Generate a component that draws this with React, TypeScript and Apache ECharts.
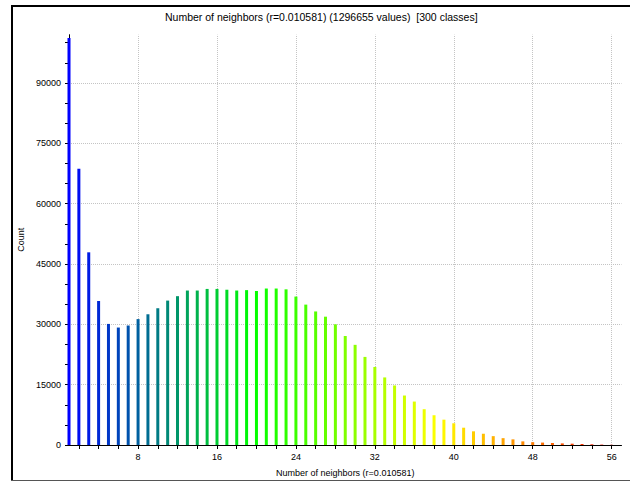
import React, { useEffect, useRef } from "react";
import * as echarts from "echarts";

const titleText = "Number of neighbors (r=0.010581) (1296655 values)  [300 classes]";
const xAxisName = "Number of neighbors (r=0.010581)";
const yAxisName = "Count";

const neighbors = [
  1, 2, 3, 4, 5, 6, 7, 8, 9, 10, 11, 12, 13, 14, 15, 16, 17, 18, 19, 20,
  21, 22, 23, 24, 25, 26, 27, 28, 29, 30, 31, 32, 33, 34, 35, 36, 37, 38, 39, 40,
  41, 42, 43, 44, 45, 46, 47, 48, 49, 50, 51, 52, 53, 54, 55, 56,
];
const counts = [
  101200, 68700, 47900, 35800, 30100, 29200, 29700, 31300, 32500, 34000,
  35900, 37000, 38400, 38400, 38800, 38800, 38600, 38400, 38500, 38300,
  38900, 38900, 38700, 36900, 34900, 33200, 31900, 30000, 27100, 24900,
  21900, 19400, 16800, 14800, 12300, 10800, 8900, 7400, 6300, 5400,
  4300, 3400, 2800, 2200, 1700, 1400, 900, 700, 600, 500,
  400, 330, 250, 170, 100, 50,
];
const xTickValues = [2, 4, 6, 8, 10, 12, 14, 16, 18, 20, 22, 24, 26, 28, 30, 32, 34, 36, 38, 40, 42, 44, 46, 48, 50, 52, 54, 56];
const xLabelValues = [8, 16, 24, 32, 40, 48, 56];
const yLabelValues = [15000, 30000, 45000, 60000, 75000, 90000];
const rampColors = ["#0000ff", "#00ff00", "#ffff00", "#ff0000"];

export default function App() {
  const ref = useRef<HTMLDivElement>(null);
  useEffect(() => {
    if (!ref.current) return;
    const chart = echarts.init(ref.current, null, { renderer: "svg" });
    const font = "Liberation Sans";
    chart.setOption({
      animation: false,
      backgroundColor: "#ffffff",
      title: {
        text: titleText,
        left: 165,
        top: 11,
        padding: 0,
        textStyle: { fontFamily: font, fontSize: 10.5, fontWeight: "normal", color: "#000" },
      },
      grid: { left: 69, right: 8.5, top: 34.7, bottom: 34.3, containLabel: false },
      visualMap: {
        type: "continuous",
        show: false,
        dimension: 0,
        seriesIndex: 0,
        min: 1,
        max: 57,
        inRange: { color: rampColors },
      },
      xAxis: {
        type: "value",
        min: 1,
        max: 57,
        name: xAxisName,
        nameLocation: "middle",
        nameGap: 23,
        nameTextStyle: { fontFamily: font, fontSize: 9, color: "#000" },
        axisLine: { show: true, lineStyle: { color: "#000", width: 1 } },
        axisTick: { show: true, length: 4, customValues: xTickValues, lineStyle: { color: "#000" } },
        axisLabel: { customValues: xLabelValues, fontFamily: font, fontSize: 9, color: "#000", margin: 7 },
        splitLine: { show: false },
      },
      yAxis: {
        type: "value",
        min: 0,
        max: 102000,
        interval: 5000,
        name: yAxisName,
        nameLocation: "middle",
        nameGap: 43,
        nameTextStyle: { fontFamily: font, fontSize: 9, color: "#000" },
        axisLine: { show: true, lineStyle: { color: "#000", width: 1 } },
        axisTick: { show: true, length: 4, lineStyle: { color: "#000" } },
        axisLabel: {
          fontFamily: font,
          fontSize: 9,
          color: "#000",
          margin: 8,
          showMaxLabel: false,
          formatter: (v: number) => (v % 15000 === 0 ? String(v) : ""),
        },
        splitLine: { show: false },
      },
      series: [
        {
          type: "bar",
          barWidth: 3,
          z: 3,
          data: neighbors.map((n, i) => [n, counts[i]]),
          markLine: {
            silent: true,
            z: 1,
            symbol: "none",
            label: { show: false },
            lineStyle: { type: "dotted", color: "#c4c4c4", width: 1 },
            emphasis: { disabled: true },
            data: [
              ...xLabelValues.map((v) => ({ xAxis: v })),
              ...yLabelValues.map((v) => ({ yAxis: v })),
            ],
          },
        },
      ],
      graphic: [
        { type: "line", shape: { x1: 12, y1: 5, x2: 12, y2: 481 }, style: { stroke: "#000", lineWidth: 2 } },
        { type: "line", shape: { x1: 11, y1: 6, x2: 630, y2: 6 }, style: { stroke: "#000", lineWidth: 2 } },
        { type: "line", shape: { x1: 11, y1: 480.5, x2: 630, y2: 480.5 }, style: { stroke: "#555", lineWidth: 1 } },
      ],
    });
    return () => chart.dispose();
  }, []);
  return (
    <div
      ref={ref}
      style={{ position: "absolute", left: 0, top: 0, width: 630, height: 482 }}
    />
  );
}
